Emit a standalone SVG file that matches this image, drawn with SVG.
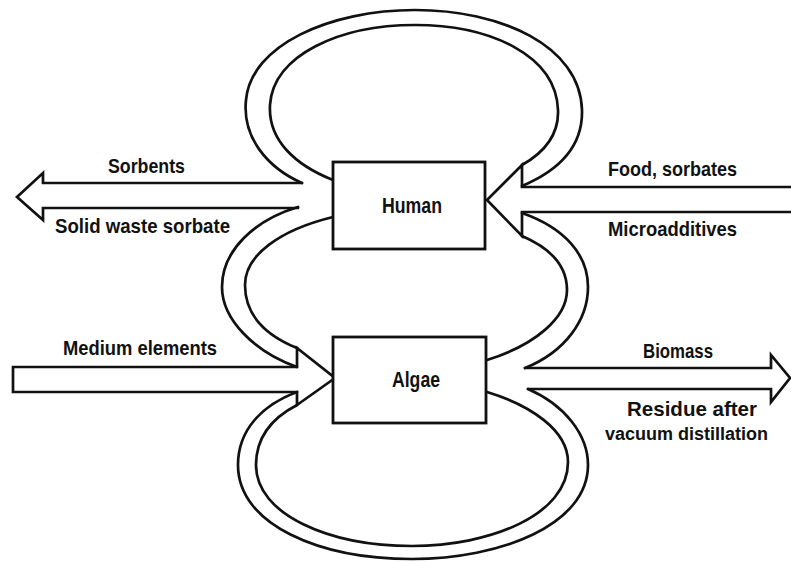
<svg xmlns="http://www.w3.org/2000/svg" width="791" height="563" viewBox="0 0 791 563">
<style>
.ln{fill:none;stroke:#111;stroke-width:2.7;stroke-linejoin:miter;stroke-linecap:round}
.box{fill:#fff;stroke:#111;stroke-width:2.8}
.t{font-family:"Liberation Sans Narrow","Liberation Sans",Arial,sans-serif;font-weight:bold;font-size:21px;fill:#111}
</style>
<rect width="791" height="563" fill="#fff"/>
<g id="connectors">
  <!-- top loop: Human -> Human -->
  <path class="ln" d="M302,183 C268,168 242,138 246,100 C251,45 330,10 415,10 C500,10 580,45 582,110 C583,145 560,170 522,186"/>
  <path class="ln" d="M333,180 C295,165 268,140 270,105 C273,55 340,25 415,25 C490,25 556,55 558,110 C559,135 545,152 522,165"/>
  <!-- left loop: Human -> Algae -->
  <path class="ln" d="M298,207 C255,220 222,250 222,287 C222,320 255,352 297,367"/>
  <path class="ln" d="M333,217 C280,230 245,255 245,285 C245,315 265,335 297,348"/>
  <!-- right loop: Algae -> Human -->
  <path class="ln" d="M525,368 C565,352 588,320 588,287 C588,255 565,228 522,213"/>
  <path class="ln" d="M487,360 C535,345 567,318 567,290 C567,265 550,248 522,236"/>
  <!-- bottom loop: Algae -> Algae -->
  <path class="ln" d="M528,389 C565,405 588,435 588,465 C588,525 500,559 412,559 C320,559 238,525 238,465 C238,430 262,405 297,392"/>
  <path class="ln" d="M487,392 C530,405 568,430 568,462 C568,515 490,546 412,546 C330,546 256,515 256,465 C256,438 272,418 297,405"/>
  <!-- Sorbents / Solid waste sorbate arrow (out, left) -->
  <path class="ln" d="M302,183 L43,183 L43,173 L17,197 L43,220 L43,208 L298,208"/>
  <!-- Food / Microadditives arrow (in, Human) -->
  <path class="ln" d="M791,187 L522,187 L522,165 L487,200 L522,236 L522,212 L791,212"/>
  <!-- Medium elements arrow (in, Algae) -->
  <path class="ln" d="M297,367 L13,367 L13,392 L297,392 L297,405 L335,378 L297,348 L297,367"/>
  <!-- Biomass / Residue arrow (out, right) -->
  <path class="ln" d="M525,368 L771,368 L771,355 L790,378 L771,402 L771,389 L528,389"/>
</g>
<g id="human">
  <rect class="box" x="333" y="162" width="152" height="87"/>
  <text class="t" x="382" y="213" textLength="60" lengthAdjust="spacingAndGlyphs" style="font-size:22px">Human</text>
</g>
<g id="algae">
  <rect class="box" x="333" y="337" width="153" height="86"/>
  <text class="t" x="392" y="387" textLength="48" lengthAdjust="spacingAndGlyphs" style="font-size:22px">Algae</text>
</g>
<g id="labels">
  <text class="t" x="108" y="173" textLength="77" lengthAdjust="spacingAndGlyphs">Sorbents</text>
  <text class="t" x="55" y="233" textLength="175" lengthAdjust="spacingAndGlyphs">Solid waste sorbate</text>
  <text class="t" x="608" y="176" textLength="129" lengthAdjust="spacingAndGlyphs">Food, sorbates</text>
  <text class="t" x="608" y="236" textLength="129" lengthAdjust="spacingAndGlyphs">Microadditives</text>
  <text class="t" x="63" y="355" textLength="154" lengthAdjust="spacingAndGlyphs">Medium elements</text>
  <text class="t" x="643" y="358" textLength="70" lengthAdjust="spacingAndGlyphs">Biomass</text>
  <text class="t" x="627" y="416" textLength="130" lengthAdjust="spacingAndGlyphs">Residue after</text>
  <text class="t" x="605" y="440" style="font-size:18px">vacuum distillation</text>
</g>
</svg>
